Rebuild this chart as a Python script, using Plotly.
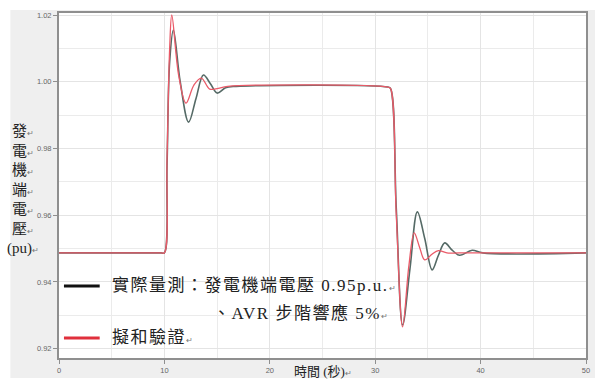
import plotly.graph_objects as go

# Generator terminal voltage, AVR 5% step test: measured vs. fitted model
meas_t = [0, 9.7, 10.0, 10.25, 10.5, 10.85, 11.5, 12.3, 13.0, 13.7, 14.35, 15.0, 15.8, 16.8,
          31.2, 31.45, 32.0, 32.6, 33.3, 34.0, 34.7, 35.4, 36.0, 36.6, 37.3, 38.0, 39.2, 40.2, 50]
meas_v = [0.9487, 0.9487, 0.9487, 0.975, 1.006, 1.0155, 1.000, 0.9879, 0.995, 1.0020, 0.9995,
          0.9966, 0.9982, 0.9986, 0.9984, 0.9980, 0.962, 0.9271, 0.944, 0.9610, 0.953, 0.9436,
          0.948, 0.9517, 0.9495, 0.9480, 0.9495, 0.9487, 0.9487]

sim_t = [0, 9.7, 10.0, 10.25, 10.5, 10.7, 11.35, 12.05, 12.8, 13.5, 14.3, 15.1, 16.0,
         31.2, 31.45, 32.0, 32.6, 33.2, 33.7, 34.2, 34.7, 35.35, 36.0, 36.8, 38.0, 50]
sim_v = [0.9487, 0.9487, 0.9487, 0.977, 1.010, 1.0200, 1.002, 0.9936, 0.999, 1.0011, 0.9978,
         0.9980, 0.9986, 0.9984, 0.9980, 0.960, 0.9265, 0.945, 0.9547, 0.9505, 0.9466, 0.9482,
         0.9494, 0.9487, 0.9487, 0.9487]

x_ticks = [0, 10, 20, 30, 40, 50]
y_ticks = [0.92, 0.94, 0.96, 0.98, 1.00, 1.02]

legend_meas_1 = "實際量測：發電機端電壓 0.95p.u."
legend_meas_2 = "、AVR 步階響應 5%"
legend_sim = "擬和驗證"
y_title_lines = ["發", "電", "機", "端", "電", "壓", "(pu)"]
x_title = "時間 (秒)"

RET = "<span style='font-size:8px;color:#777'>↵</span>"
TXT_FONT = "Liberation Serif, Noto Sans CJK TC, serif"


def spaced(s):
    return "<span style='letter-spacing:1.5px'>" + s + "</span>"


fig = go.Figure()
fig.add_trace(go.Scatter(x=meas_t, y=meas_v, mode="lines", name=legend_meas_1,
                         line=dict(color="#556a66", width=1.6, shape="spline", smoothing=1)))
fig.add_trace(go.Scatter(x=sim_t, y=sim_v, mode="lines", name=legend_sim,
                         line=dict(color="#ea5a68", width=1.3, shape="spline", smoothing=1)))

# panel background: grey frame with a white plotting area
shapes = [
    dict(type="rect", xref="paper", yref="paper", x0=-0.0923, x1=1.02, y0=-0.058, y1=1.0087,
         fillcolor="#efefef", line=dict(width=0), layer="below"),
    dict(type="rect", xref="paper", yref="paper", x0=0, x1=1, y0=0, y1=1,
         fillcolor="white", line=dict(width=0), layer="below"),
    # legend samples
    dict(type="line", xref="paper", yref="paper", x0=0.0094, x1=0.0772, y0=0.2087, y1=0.2087,
         line=dict(color="#111111", width=3)),
    dict(type="line", xref="paper", yref="paper", x0=0.0094, x1=0.0772, y0=0.058, y1=0.058,
         line=dict(color="#e0303c", width=3)),
]

annotations = [
    dict(xref="paper", yref="paper", x=0.096, y=0.2087, xanchor="left", yanchor="middle",
         text=spaced(legend_meas_1) + RET, showarrow=False,
         font=dict(family=TXT_FONT, size=17, color="#222")),
    dict(xref="paper", yref="paper", x=0.289, y=0.1304, xanchor="left", yanchor="middle",
         text=spaced(legend_meas_2) + RET, showarrow=False,
         font=dict(family=TXT_FONT, size=17, color="#222")),
    dict(xref="paper", yref="paper", x=0.096, y=0.058, xanchor="left", yanchor="middle",
         text=spaced(legend_sim) + RET, showarrow=False,
         font=dict(family=TXT_FONT, size=17, color="#222")),
    dict(xref="paper", yref="paper", x=-0.068, y=0.486, xanchor="center", yanchor="middle",
         text="<br>".join(s + RET for s in y_title_lines), showarrow=False, align="center",
         font=dict(family=TXT_FONT, size=15, color="#222")),
    dict(xref="paper", yref="paper", x=0.5, y=-0.0377, xanchor="center", yanchor="middle",
         text=x_title + RET, showarrow=False, font=dict(family=TXT_FONT, size=13, color="#222")),
]

axis_common = dict(showline=True, linecolor="#8f8f8f", linewidth=2, mirror=True,
                   ticks="outside", ticklen=4, tickcolor="#8f8f8f", tickwidth=1,
                   tickfont=dict(family="Liberation Sans, Arial", size=7.5, color="#666"),
                   showgrid=True, gridcolor="#e4e4e4", gridwidth=1, zeroline=False)

fig.update_layout(
    width=595, height=382, autosize=False,
    margin=dict(l=59, r=5, t=13, b=24),
    paper_bgcolor="white", plot_bgcolor="white",
    showlegend=False,
    shapes=shapes, annotations=annotations,
    xaxis=dict(range=[0, 50], tickvals=x_ticks, ticktext=[str(v) for v in x_ticks],
               minor=dict(dtick=5, tick0=0, showgrid=True, gridcolor="#ebebeb", ticks=""),
               **axis_common),
    yaxis=dict(range=[0.9172, 1.0206], tickvals=y_ticks,
               ticktext=[f"{v:.2f}" for v in y_ticks],
               minor=dict(dtick=0.01, tick0=0.92, showgrid=True, gridcolor="#ebebeb", ticks=""),
               **axis_common),
)

fig.write_html("out.html")
